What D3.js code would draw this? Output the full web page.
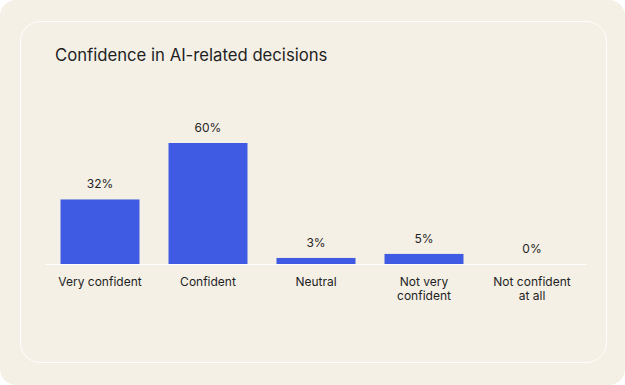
<!DOCTYPE html>
<html>
<head>
<meta charset="utf-8">
<script src="https://cdn.jsdelivr.net/npm/d3@7"></script>
<style>
  body { margin: 0; background: #ffffff; }
  svg { display: block; font-family: Inter, "Noto Sans", sans-serif; }
</style>
</head>
<body>
<div id="vis-holder"></div>
<script>
// Chart data
const categories = ["Very confident", "Confident", "Neutral", "Not very confident", "Not confident at all"];
const values = [32, 60, 3, 5, 0];
// wrapped tick labels as they appear under the bars
const tickLines = [["Very confident"], ["Confident"], ["Neutral"], ["Not very", "confident"], ["Not confident", "at all"]];
const title = "Confidence in AI-related decisions";

const width = 625;
const height = 385;
const baseY = 264;

const svg = d3.select("#vis-holder")
              .append("svg")
              .attr("width", width)
              .attr("height", height);

// Card background
svg.append("rect")
   .attr("x", 0).attr("y", 0)
   .attr("width", width).attr("height", height)
   .attr("rx", 16)
   .attr("fill", "#f4f0e6");

// Inner panel outline
svg.append("rect")
   .attr("x", 20.5).attr("y", 21.5)
   .attr("width", 586).attr("height", 341)
   .attr("rx", 20)
   .attr("fill", "none")
   .attr("stroke", "#ffffff")
   .attr("stroke-width", 1);

// Title
svg.append("text")
   .attr("x", 55)
   .attr("y", 61)
   .attr("fill", "#1f1f1f")
   .attr("font-size", "16.7px")
   .text(title);

// Scales
const x = d3.scaleBand()
            .domain(categories)
            .range([45, 587])
            .paddingInner(0.2685)
            .paddingOuter(0.1435);

const y = d3.scaleLinear()
            .domain([0, 60])
            .range([baseY, 143]);

// Bars
svg.selectAll(".bar")
   .data(categories)
   .enter()
   .append("rect")
     .attr("class", "bar")
     .attr("x", (d) => x(d))
     .attr("y", (d, i) => y(values[i]))
     .attr("width", x.bandwidth())
     .attr("height", (d, i) => baseY - y(values[i]))
     .attr("fill", "#3f5be3");

// Baseline
svg.append("line")
   .attr("x1", 45).attr("x2", 587)
   .attr("y1", baseY + 0.5).attr("y2", baseY + 0.5)
   .attr("stroke", "#ffffff")
   .attr("stroke-width", 1);

// Value labels
svg.selectAll(".val")
   .data(categories)
   .enter()
   .append("text")
     .attr("class", "val")
     .attr("x", (d) => x(d) + x.bandwidth() / 2)
     .attr("y", (d, i) => y(values[i]) - 11)
     .attr("text-anchor", "middle")
     .attr("font-size", "12px")
     .attr("fill", "#1f1f1f")
     .text((d, i) => values[i] + "%");

// Category labels, one text per line
tickLines.forEach((lines, i) => {
  const cx = x(categories[i]) + x.bandwidth() / 2;
  svg.selectAll(null)
     .data(lines)
     .enter()
     .append("text")
       .attr("class", "tick-label")
       .attr("x", cx)
       .attr("y", (d, j) => 285.5 + j * 14.5)
       .attr("text-anchor", "middle")
       .attr("font-size", "12px")
       .attr("fill", "#1f1f1f")
       .text((d) => d);
});
</script>
</body>
</html>
